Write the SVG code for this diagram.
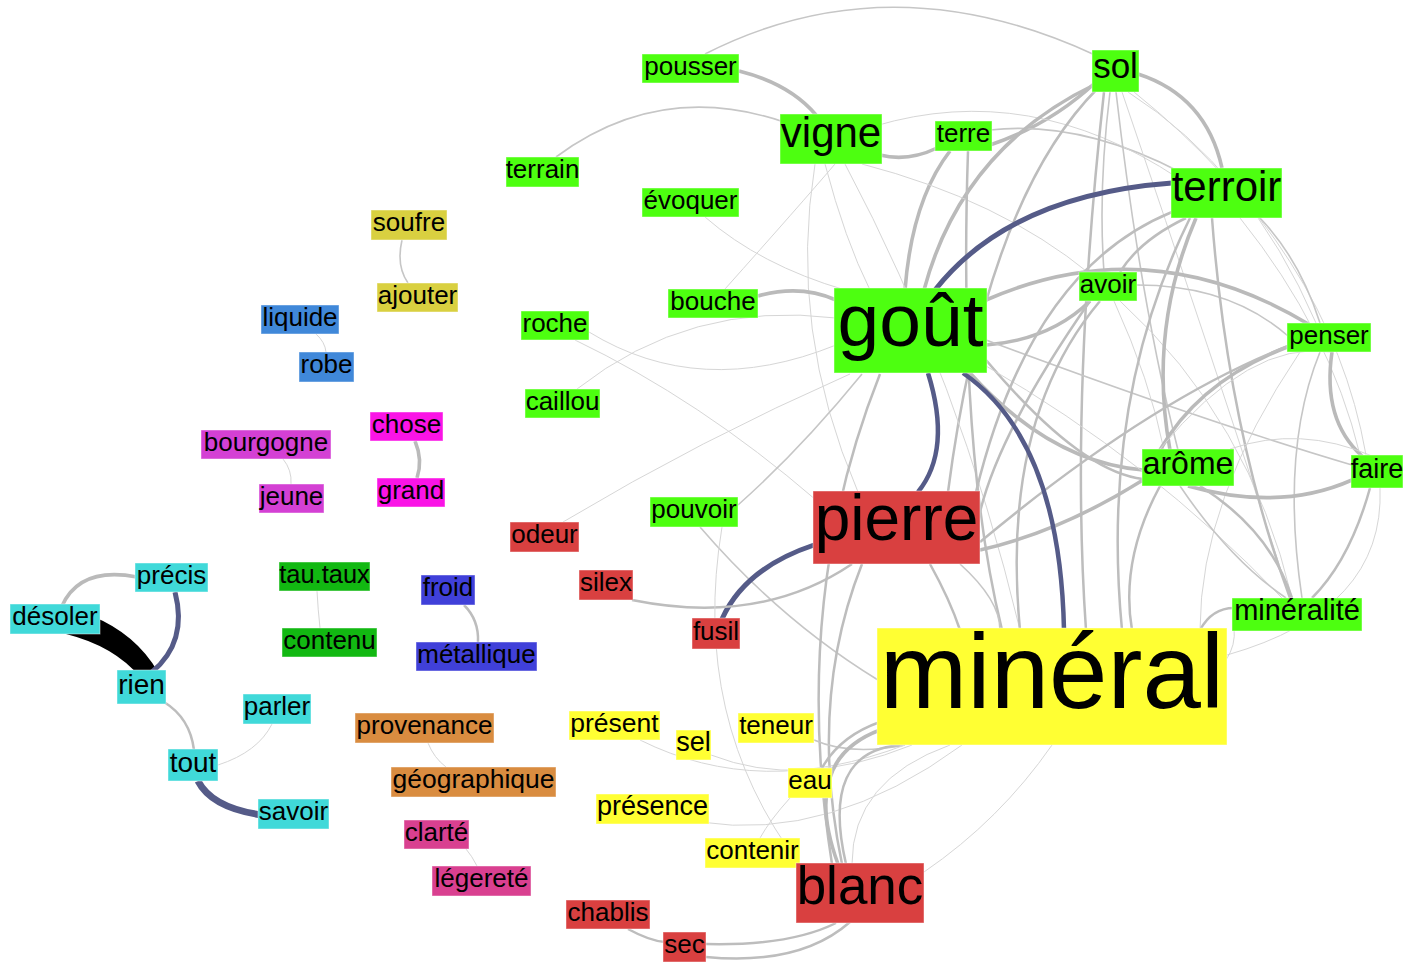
<svg xmlns="http://www.w3.org/2000/svg" width="1417" height="963" viewBox="0 0 1417 963">
<style>
.t{font-family:"Liberation Sans",Arial,sans-serif;text-anchor:middle;fill:#000}
.e0{fill:none;stroke:#d6d6d6;stroke-width:1}
.e1{fill:none;stroke:#c6c6c6;stroke-width:1.6}
.e2{fill:none;stroke:#bdbdbd;stroke-width:2.5}
.e3{fill:none;stroke:#bababa;stroke-width:3.6}
.dk{fill:none;stroke:#555b88}
.n rect{stroke:#ffffff;stroke-opacity:0.45;stroke-width:1}
.g rect{fill:#4dff10}.r rect{fill:#d94040}.y rect{fill:#ffff33}.c rect{fill:#40d9d9}
.o rect{fill:#d98c40}.pk rect{fill:#d94090}.m rect{fill:#fa14e6}.pu rect{fill:#d440d4}
.b rect{fill:#4088d9}.i rect{fill:#4040d9}.dg rect{fill:#12b812}.ol rect{fill:#d9d040}
</style>
<rect width="1417" height="963" fill="#ffffff"/>
<g id="connectors">
<!-- left cluster -->
<path class="e3" d="M62,606 Q80,566 137,577"/>
<path d="M92,616 Q136,634 158,672 L140,677 Q114,646 66,634 Z" fill="#000"/>
<path class="dk" stroke-width="5" d="M175,592 Q188,642 152,672"/>
<path class="e2" d="M164,702 Q190,718 194,750"/>
<path class="e0" d="M218,765 Q258,752 272,724"/>
<path class="dk" stroke-width="7" d="M198,781 Q212,808 262,815"/>
<!-- small pairs -->
<path class="e1" d="M402,240 Q396,266 408,283"/>
<path class="e0" d="M316,334 Q325,342 326,352"/>
<path class="e3" d="M415,441 Q423,460 417,478"/>
<path class="e0" d="M283,459 Q292,470 291,484"/>
<path class="e0" d="M317,591 Q318,610 320,628"/>
<path class="e2" d="M464,605 Q479,620 478,642"/>
<path class="e0" d="M428,743 Q434,758 446,767"/>
<path class="e0" d="M466,849 Q472,856 477,866"/>
<path class="e2" d="M628,929 Q650,941 665,942"/>
<!-- top -->
<path class="e1" d="M705,54 Q890,-40 1095,55"/>
<path class="e3" d="M739,71 Q790,84 816,115"/>
<path class="e1" d="M556,157 Q660,80 784,122"/>
<path class="e3" d="M880,155 Q908,162 937,148"/>
<path class="e3" d="M990,145 Q1050,125 1096,82"/>
<path class="e1" d="M990,130 Q1080,120 1180,172"/>
<path class="e0" d="M875,126 Q1030,80 1178,178"/>
<path class="e3" d="M950,151 Q912,200 905,290"/>
<path class="e3" d="M1096,84 Q962,148 924,290"/>
<path class="e2" d="M1098,88 Q986,200 948,492"/>
<path class="e2" d="M1104,92 Q1070,400 1086,630"/>
<path class="e1" d="M1110,92 Q1098,190 1104,272"/>
<path class="e1" d="M1116,92 Q1140,300 1178,450"/>
<path class="e0" d="M1122,92 Q1210,350 1290,598"/>
<path class="e0" d="M1128,92 Q1250,170 1316,323"/>
<path class="e0" d="M1134,92 Q1330,250 1366,455"/>
<path class="e3" d="M1138,74 Q1206,96 1222,168"/>
<path class="e0" d="M825,164 Q845,240 870,290"/>
<path class="e0" d="M815,164 Q788,330 858,492"/>
<path class="e0" d="M845,164 Q960,380 1020,630"/>
<path class="e0" d="M862,164 Q1000,200 1090,274"/>
<path class="e2" d="M968,151 Q958,450 1002,630"/>
<!-- goût -->
<path class="e3" d="M758,296 Q800,284 836,300"/>
<path class="e0" d="M725,289 Q800,205 835,164"/>
<path class="e0" d="M589,332 Q700,400 836,345"/>
<path class="e0" d="M705,217 Q760,265 845,290"/>
<path class="e0" d="M577,389 Q690,300 836,318"/>
<path class="e0" d="M575,340 Q700,400 816,500"/>
<path class="e0" d="M563,522 Q700,440 850,374"/>
<path class="e1" d="M738,505 Q800,450 862,374"/>
<path class="e1" d="M700,527 Q780,620 878,680"/>
<path class="e3" d="M986,345 Q1050,340 1090,301"/>
<path class="e3" d="M986,300 Q1150,228 1310,325"/>
<path class="e3" d="M970,373 Q1050,462 1143,470"/>
<path class="e2" d="M986,360 Q1080,472 1143,479"/>
<path class="e1" d="M986,340 Q1200,420 1352,465"/>
<path class="e0" d="M986,366 Q1150,460 1282,598"/>
<path class="e2" d="M880,374 Q790,600 832,864"/>
<!-- terroir / avoir -->
<path class="e1" d="M1137,285 Q1230,285 1288,336"/>
<path class="e0" d="M1114,301 Q1150,380 1164,450"/>
<path class="e2" d="M1100,301 Q1000,420 1020,630"/>
<path class="e2" d="M1090,301 Q1000,430 980,512"/>
<path class="e0" d="M1120,301 Q1250,420 1292,598"/>
<path class="e2" d="M1186,218 Q1140,240 1120,272"/>
<path class="e1" d="M1260,218 Q1300,260 1320,323"/>
<path class="e3" d="M1196,218 Q1148,330 1170,450"/>
<path class="e0" d="M1240,218 Q1330,330 1360,455"/>
<path class="e2" d="M1212,218 Q1228,430 1290,598"/>
<path class="e2" d="M1190,218 Q1100,400 1122,630"/>
<path class="e2" d="M1172,212 Q1030,270 976,492"/>
<!-- penser / arôme / faire -->
<path class="e3" d="M1332,352 Q1322,420 1362,456"/>
<path class="e3" d="M1290,346 Q1200,380 1160,450"/>
<path class="e2" d="M1288,346 Q1150,400 980,542"/>
<path class="e1" d="M1320,352 Q1280,450 1302,598"/>
<path class="e0" d="M1300,352 Q1200,500 1200,630"/>
<path class="e3" d="M1188,486 Q1280,512 1352,480"/>
<path class="e0" d="M1230,449 Q1300,425 1372,456"/>
<path class="e2" d="M1200,486 Q1270,530 1292,598"/>
<path class="e1" d="M1180,486 Q1230,560 1286,598"/>
<path class="e2" d="M1160,486 Q1120,560 1132,630"/>
<path class="e3" d="M1143,480 Q1060,532 980,550"/>
<path class="e2" d="M1370,488 Q1350,560 1312,598"/>
<path class="e0" d="M1380,488 Q1385,610 1227,655"/>
<path class="e0" d="M1160,449 Q1250,340 1330,352"/>
<path class="e2" d="M1234,608 Q1212,608 1200,630"/>
<path class="e0" d="M1234,628 Q1236,645 1226,660"/>
<!-- pierre / minéral -->
<path class="dk" stroke-width="5" d="M935,290 Q1010,195 1172,183"/>
<path class="dk" stroke-width="4.5" d="M928,373 Q952,450 918,492"/>
<path class="dk" stroke-width="4.5" d="M963,373 Q1060,440 1064,630"/>
<path class="dk" stroke-width="5" d="M814,545 Q745,568 722,619"/>
<path class="e2" d="M632,600 Q760,626 852,564"/>
<path class="e2" d="M930,564 Q950,600 960,630"/>
<path class="e1" d="M960,564 Q1000,600 1000,630"/>
<path class="e2" d="M842,864 Q808,700 862,564"/>
<path class="e0" d="M722,527 Q690,720 800,865"/>
<!-- bottom -->
<path class="e1" d="M814,740 Q850,756 905,745"/>
<path class="e0" d="M640,740 Q760,800 905,745"/>
<path class="e0" d="M711,755 Q800,790 912,745"/>
<path class="e2" d="M822,768 Q840,736 880,722"/>
<path class="e0" d="M790,798 Q770,820 760,838"/>
<path class="e0" d="M700,822 Q830,842 962,745"/>
<path class="e3" d="M838,864 Q800,760 880,730"/>
<path class="e2" d="M846,864 Q820,752 900,745"/>
<path class="e0" d="M852,864 Q852,780 950,745"/>
<path class="e0" d="M924,872 Q1000,820 1052,745"/>
<path class="e2" d="M706,944 Q790,946 836,923"/>
<path class="e2" d="M706,957 Q800,966 850,922"/>
</g>
<g id="n-pousser" class="n g"><rect x="642" y="54" width="97" height="29"/><text class="t" x="690.5" y="74.7" font-size="26">pousser</text></g>
<g id="n-terre" class="n g"><rect x="935" y="121" width="57" height="30"/><text class="t" x="963.5" y="142.2" font-size="26">terre</text></g>
<g id="n-terrain" class="n g"><rect x="506" y="157" width="73" height="30"/><text class="t" x="542.5" y="178.2" font-size="26">terrain</text></g>
<g id="n-evoquer" class="n g"><rect x="642" y="188" width="97" height="29"/><text class="t" x="690.5" y="208.7" font-size="26">évoquer</text></g>
<g id="n-soufre" class="n ol"><rect x="371" y="210" width="76" height="30"/><text class="t" x="409" y="231.2" font-size="26">soufre</text></g>
<g id="n-ajouter" class="n ol"><rect x="377" y="283" width="81" height="29"/><text class="t" x="417.5" y="303.7" font-size="26">ajouter</text></g>
<g id="n-liquide" class="n b"><rect x="261" y="305" width="78" height="29"/><text class="t" x="300" y="325.7" font-size="26">liquide</text></g>
<g id="n-robe" class="n b"><rect x="299" y="352" width="55" height="30"/><text class="t" x="326.5" y="373.2" font-size="26">robe</text></g>
<g id="n-roche" class="n g"><rect x="521" y="311" width="68" height="29"/><text class="t" x="555" y="331.7" font-size="26">roche</text></g>
<g id="n-bouche" class="n g"><rect x="668" y="289" width="90" height="29"/><text class="t" x="713" y="309.7" font-size="26">bouche</text></g>
<g id="n-avoir" class="n g"><rect x="1079" y="272" width="58" height="29"/><text class="t" x="1108" y="292.7" font-size="26">avoir</text></g>
<g id="n-penser" class="n g"><rect x="1287" y="323" width="84" height="29"/><text class="t" x="1329" y="343.7" font-size="26">penser</text></g>
<g id="n-caillou" class="n g"><rect x="525" y="389" width="75" height="29"/><text class="t" x="562.5" y="409.7" font-size="26">caillou</text></g>
<g id="n-chose" class="n m"><rect x="370" y="412" width="73" height="29"/><text class="t" x="406.5" y="432.7" font-size="26">chose</text></g>
<g id="n-bourgogne" class="n pu"><rect x="201" y="430" width="130" height="29"/><text class="t" x="266" y="450.7" font-size="26">bourgogne</text></g>
<g id="n-grand" class="n m"><rect x="377" y="478" width="68" height="29"/><text class="t" x="411" y="498.7" font-size="26">grand</text></g>
<g id="n-jeune" class="n pu"><rect x="259" y="484" width="65" height="29"/><text class="t" x="291.5" y="504.7" font-size="26">jeune</text></g>
<g id="n-faire" class="n g"><rect x="1351" y="455" width="52" height="33"/><text class="t" x="1377" y="477.9" font-size="27">faire</text></g>
<g id="n-pouvoir" class="n g"><rect x="650" y="497" width="88" height="30"/><text class="t" x="694" y="518.2" font-size="26">pouvoir</text></g>
<g id="n-odeur" class="n r"><rect x="510" y="522" width="69" height="30"/><text class="t" x="544.5" y="543.2" font-size="26">odeur</text></g>
<g id="n-silex" class="n r"><rect x="579" y="570" width="54" height="30"/><text class="t" x="606" y="591.2" font-size="26">silex</text></g>
<g id="n-precis" class="n c"><rect x="135" y="563" width="73" height="29"/><text class="t" x="171.5" y="583.7" font-size="26">précis</text></g>
<g id="n-tautaux" class="n dg"><rect x="279" y="562" width="91" height="29"/><text class="t" x="324.5" y="582.6" font-size="25.5">tau.taux</text></g>
<g id="n-desoler" class="n c"><rect x="10" y="604" width="90" height="30"/><text class="t" x="55" y="625.2" font-size="26">désoler</text></g>
<g id="n-froid" class="n i"><rect x="421" y="575" width="54" height="30"/><text class="t" x="448" y="596.2" font-size="26">froid</text></g>
<g id="n-contenu" class="n dg"><rect x="282" y="628" width="95" height="29"/><text class="t" x="329.5" y="648.7" font-size="26">contenu</text></g>
<g id="n-fusil" class="n r"><rect x="692" y="618" width="48" height="31"/><text class="t" x="716" y="639.7" font-size="26">fusil</text></g>
<g id="n-metallique" class="n i"><rect x="416" y="642" width="121" height="29"/><text class="t" x="476.5" y="662.7" font-size="26">métallique</text></g>
<g id="n-rien" class="n c"><rect x="117" y="670" width="49" height="34"/><text class="t" x="141.5" y="693.6" font-size="28">rien</text></g>
<g id="n-parler" class="n c"><rect x="243" y="694" width="68" height="30"/><text class="t" x="277" y="715.2" font-size="26">parler</text></g>
<g id="n-provenance" class="n o"><rect x="355" y="713" width="139" height="30"/><text class="t" x="424.5" y="734.2" font-size="26">provenance</text></g>
<g id="n-present" class="n y"><rect x="569" y="711" width="91" height="29"/><text class="t" x="614.5" y="731.8" font-size="26.5">présent</text></g>
<g id="n-teneur" class="n y"><rect x="738" y="713" width="76" height="30"/><text class="t" x="776" y="734.2" font-size="26">teneur</text></g>
<g id="n-sel" class="n y"><rect x="676" y="730" width="35" height="30"/><text class="t" x="693.5" y="751.4" font-size="27">sel</text></g>
<g id="n-tout" class="n c"><rect x="168" y="749" width="50" height="32"/><text class="t" x="193" y="771.6" font-size="28">tout</text></g>
<g id="n-geographique" class="n o"><rect x="391" y="767" width="165" height="30"/><text class="t" x="473.5" y="788.3" font-size="26.5">géographique</text></g>
<g id="n-eau" class="n y"><rect x="788" y="768" width="44" height="30"/><text class="t" x="810" y="789.2" font-size="26">eau</text></g>
<g id="n-savoir" class="n c"><rect x="258" y="799" width="71" height="30"/><text class="t" x="293.5" y="820.2" font-size="26">savoir</text></g>
<g id="n-presence" class="n y"><rect x="596" y="794" width="113" height="30"/><text class="t" x="652.5" y="815.4" font-size="27">présence</text></g>
<g id="n-clarte" class="n pk"><rect x="404" y="820" width="65" height="29"/><text class="t" x="436.5" y="840.7" font-size="26">clarté</text></g>
<g id="n-contenir" class="n y"><rect x="705" y="838" width="95" height="30"/><text class="t" x="752.5" y="859.2" font-size="26">contenir</text></g>
<g id="n-legerete" class="n pk"><rect x="432" y="866" width="99" height="30"/><text class="t" x="481.5" y="887.2" font-size="26">légereté</text></g>
<g id="n-chablis" class="n r"><rect x="566" y="900" width="84" height="29"/><text class="t" x="608" y="920.7" font-size="26">chablis</text></g>
<g id="n-sec" class="n r"><rect x="663" y="932" width="43" height="30"/><text class="t" x="684.5" y="953.2" font-size="26">sec</text></g>
<g id="n-vigne" class="n g"><rect x="780" y="114" width="102" height="50"/><text class="t" x="831" y="147.4" font-size="42">vigne</text></g>
<g id="n-sol" class="n g"><rect x="1092" y="50" width="47" height="42"/><text class="t" x="1115.5" y="78" font-size="35">sol</text></g>
<g id="n-terroir" class="n g"><rect x="1171" y="168" width="111" height="50"/><text class="t" x="1226.5" y="201.4" font-size="42">terroir</text></g>
<g id="n-gout" class="n g"><rect x="834" y="288" width="153" height="85"/><text class="t" x="910.5" y="345.5" font-size="75">goût</text></g>
<g id="n-arome" class="n g"><rect x="1142" y="449" width="92" height="37"/><text class="t" x="1188" y="473.9" font-size="32">arôme</text></g>
<g id="n-pierre" class="n r"><rect x="813" y="491" width="167" height="73"/><text class="t" x="896.5" y="540.3" font-size="64">pierre</text></g>
<g id="n-mineralite" class="n g"><rect x="1232" y="598" width="130" height="33"/><text class="t" x="1297" y="620.3" font-size="29">minéralité</text></g>
<g id="n-mineral" class="n y"><rect x="877" y="628" width="350" height="117"/><text class="t" x="1052" y="707.5" font-size="105">minéral</text></g>
<g id="n-blanc" class="n r"><rect x="796" y="863" width="128" height="60"/><text class="t" x="860" y="903.6" font-size="53">blanc</text></g>
</svg>
